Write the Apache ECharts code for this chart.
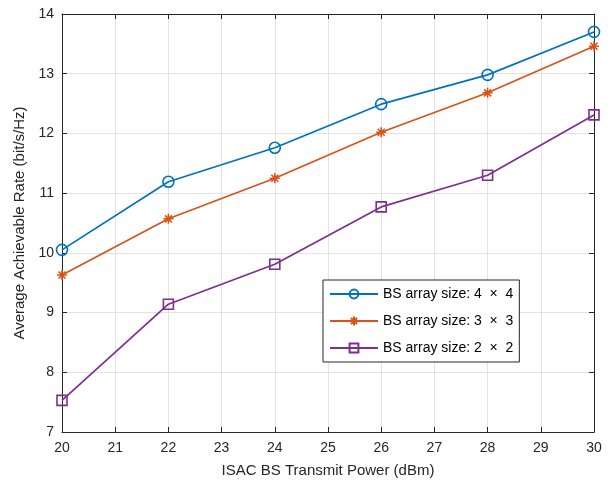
<!DOCTYPE html>
<html>
<head>
<meta charset="utf-8">
<script src="https://cdn.jsdelivr.net/npm/echarts@6/dist/echarts.min.js"></script>
<style>html,body{margin:0;padding:0;background:#fff}#c{width:610px;height:483px}</style>
</head>
<body>
<div id="c"></div>
<script>
const xValues = [20, 22, 24, 26, 28, 30];
const series4x4 = [10.05, 11.19, 11.76, 12.49, 12.98, 13.70];
const series3x3 = [9.63, 10.57, 11.25, 12.02, 12.68, 13.46];
const series2x2 = [7.53, 9.14, 9.81, 10.77, 11.30, 12.31];
const seriesNames = ['BS array size: 4  \u00d7  4', 'BS array size: 3  \u00d7  3', 'BS array size: 2  \u00d7  2'];
const colors = ['#0072BD', '#D95319', '#7E2F8E'];

const font = "'Liberation Sans', Arial, Helvetica, sans-serif";
const axisColor = '#262626';
const pair = arr => xValues.map((x, i) => [x, arr[i]]);
const asterisk = 'path://M0,-10L0,10M-10,0L10,0M-7,-7L7,7M-7,7L7,-7';

const chart = echarts.init(document.getElementById('c'), null, {renderer: 'canvas'});
const baseAxis = {
  axisLine: {show: true, onZero: false, lineStyle: {color: axisColor, width: 1}},
  axisTick: {show: true, inside: true, length: 5, lineStyle: {color: axisColor}},
  splitLine: {show: false},
};
function mk(name, data, color, symbol, size) {
  return {
    name: name, type: 'line', data: data, symbol: symbol, symbolSize: size,
    showAllSymbol: true,
    lineStyle: {color: color, width: 1.7},
    itemStyle: {color: symbol.startsWith('path') ? color : 'transparent', borderColor: color, borderWidth: 1.6},
    emphasis: {disabled: true}, animation: false
  };
}
chart.setOption({
  animation: false,
  backgroundColor: '#fff',
  textStyle: {fontFamily: font},
  grid: {left: 62, right: 16, top: 14, bottom: 51, containLabel: false},
  xAxis: [
    Object.assign({}, baseAxis, {
      type: 'value', min: 20, max: 30, interval: 1, position: 'bottom',
      name: 'ISAC BS Transmit Power (dBm)', nameLocation: 'middle', nameGap: 31,
      nameTextStyle: {fontSize: 15, color: axisColor, fontFamily: font},
      axisLabel: {fontSize: 14, color: axisColor, fontFamily: font, margin: 9},
      splitLine: {show: true, lineStyle: {color: '#e3e3e3', width: 1}}
    }),
    Object.assign({}, baseAxis, {
      type: 'value', min: 20, max: 30, interval: 1, position: 'top',
      axisLabel: {show: false}
    })
  ],
  yAxis: [
    Object.assign({}, baseAxis, {
      type: 'value', min: 7, max: 14, interval: 1, position: 'left',
      name: 'Average Achievable Rate (bit/s/Hz)', nameLocation: 'middle', nameGap: 24,
      nameTextStyle: {fontSize: 15, color: axisColor, fontFamily: font},
      axisLabel: {fontSize: 14, color: axisColor, fontFamily: font, margin: 8},
      splitLine: {show: true, lineStyle: {color: '#e3e3e3', width: 1}}
    }),
    Object.assign({}, baseAxis, {
      type: 'value', min: 7, max: 14, interval: 1, position: 'right',
      axisLabel: {show: false}
    })
  ],
  legend: {
    orient: 'vertical', left: 323, top: 280,
    data: seriesNames,
    itemWidth: 48, itemHeight: 11, itemGap: 13,
    padding: [7, 6, 7, 6],
    borderColor: axisColor, borderWidth: 1, backgroundColor: '#fff',
    textStyle: {fontSize: 14, color: '#000', fontFamily: font},
    selectedMode: false
  },
  series: [
    mk(seriesNames[0], pair(series4x4), colors[0], 'circle', 11),
    mk(seriesNames[1], pair(series3x3), colors[1], asterisk, 10),
    mk(seriesNames[2], pair(series2x2), colors[2], 'rect', 10)
  ]
});
</script>
</body>
</html>
